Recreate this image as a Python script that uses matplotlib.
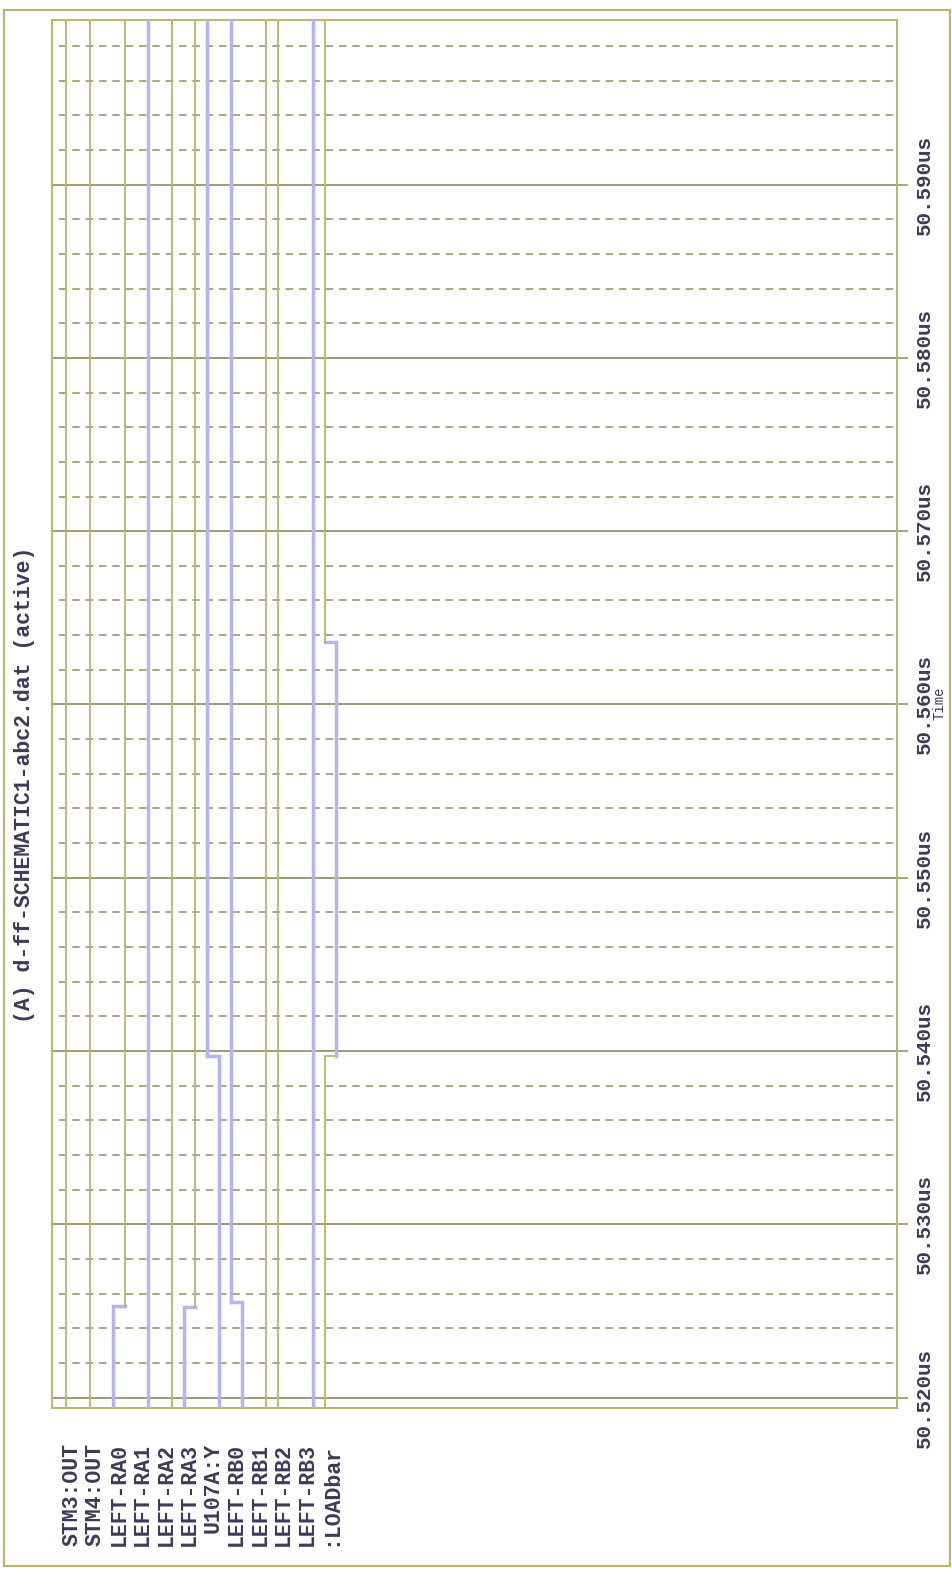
import matplotlib
matplotlib.use("Agg")
import matplotlib.pyplot as plt
import matplotlib.transforms as mtransforms
from matplotlib.patches import Rectangle
import numpy as np

# signal names (lanes, left to right)
signals = ["STM3:OUT", "STM4:OUT", "LEFT-RA0", "LEFT-RA1", "LEFT-RA2", "LEFT-RA3",
           "U107A:Y", "LEFT-RB0", "LEFT-RB1", "LEFT-RB2", "LEFT-RB3", ":LOADbar"]
# level at start of window (0 = low, 1 = high)
start_level = [0, 0, 0, 1, 1, 0, 1, 1, 1, 0, 1, 0]
# toggle times in us
edges = [[], [], [50.5253], [], [], [50.5252], [50.5397], [50.5255], [], [], [], [50.5397, 50.5636]]

t_start = 50.5194
t_end = 50.5995
major_ticks = [50.520, 50.530, 50.540, 50.550, 50.560, 50.570, 50.580, 50.590]
tick_labels = ["50.520us", "50.530us", "50.540us", "50.550us",
               "50.560us", "50.570us", "50.580us", "50.590us"]

LAV = "#b4b4f4"
OLV = "#bbb46a"
GRID = "#8e8a5e"
DASH = "#9b976e"
TXT = "#3b3b58"
# colour of the trace when low / high
trace_colors = [(OLV, OLV), (OLV, OLV), (LAV, OLV), (LAV, LAV), (OLV, OLV), (LAV, OLV),
                (LAV, LAV), (LAV, LAV), (OLV, OLV), (OLV, OLV), (LAV, LAV), (OLV, LAV)]

mono = "Liberation Mono"

fig = plt.figure(figsize=(9.52, 15.73), dpi=100)
ax = fig.add_axes([52 / 952, 1 - 1408 / 1573, 845 / 952, (1408 - 20) / 1573])

# grid: dashed every 2 ns, solid every 10 ns
for t in np.arange(50.522, 50.5995, 0.002):
    if abs(round(t * 1000) % 10) > 0:
        ax.axhline(t, color=DASH, lw=1.2, dashes=(4.5, 3.5), xmin=0.008, zorder=1)
for t in major_ticks:
    ax.axhline(t, color=GRID, lw=1.2, zorder=2)

half = 0.255
for i, name in enumerate(signals):
    times = [t_start] + edges[i] + [t_end]
    lvl = start_level[i]
    for k in range(len(times) - 1):
        x = i - half if lvl == 0 else i + half
        col = trace_colors[i][lvl]
        w = 2.5 if col == LAV else 1.3
        xs = [x, x]
        ys = [times[k], times[k + 1]]
        if k + 1 < len(times) - 1:
            nx = i + half if lvl == 0 else i - half
            xs.append(nx)
            ys.append(times[k + 1])
        ax.plot(xs, ys, color=col, lw=w, solid_joinstyle="miter", zorder=3)
        lvl = 1 - lvl

ax.set_xlim(-0.851, 35.106)
ax.set_ylim(t_start, t_end)
ax.set_xticks([])
ax.yaxis.tick_right()
ax.set_yticks(major_ticks)
ax.set_yticklabels(tick_labels, rotation=90, va="center", fontfamily=mono,
                   fontweight="bold", fontsize=15, color=TXT)
ax.tick_params(axis="y", direction="out", length=8, width=1.1, color=GRID, pad=5)
for s in ax.spines.values():
    s.set_color(OLV)
    s.set_linewidth(1.4)

# signal names below the plot
tr = mtransforms.blended_transform_factory(ax.transData, fig.transFigure)
for i, name in enumerate(signals):
    ax.text(i, 1 - 1443 / 1573, name, transform=tr, rotation=90, rotation_mode="anchor",
            ha="right", va="center", fontfamily=mono, fontweight="bold",
            fontsize=15.5, color=TXT, clip_on=False)

fig.text(25 / 952, 1 - 785 / 1573, "(A) d-ff-SCHEMATIC1-abc2.dat (active)", rotation=90,
         ha="center", va="center", fontfamily=mono, fontweight="bold", fontsize=15.5, color=TXT)
fig.text(939 / 952, 1 - 703 / 1573, "Time", rotation=90, ha="center", va="center",
         fontfamily=mono, fontsize=10, color=TXT)

fig.patches.append(Rectangle((4 / 952, 1 - 1566 / 1573), 946 / 952, 1556 / 1573,
                             transform=fig.transFigure, fill=False, ec=OLV, lw=1.5))

fig.savefig("out.png", dpi=100)
